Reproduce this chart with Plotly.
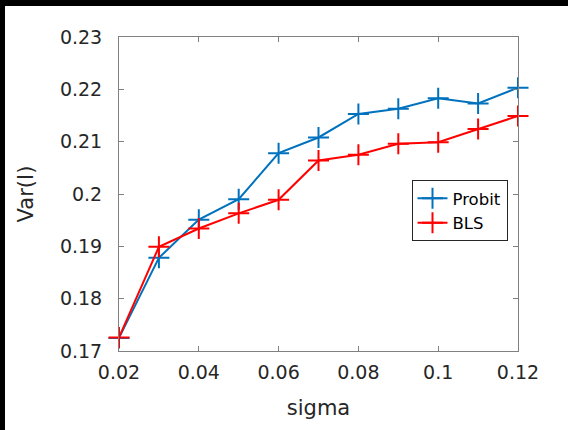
import plotly.graph_objects as go

sigma = [0.02, 0.03, 0.04, 0.05, 0.06, 0.07, 0.08, 0.09, 0.10, 0.11, 0.12]
probit = [0.1725, 0.1878, 0.1951, 0.1990, 0.2078, 0.2108, 0.2153, 0.2163, 0.2183, 0.2173, 0.2203]
bls = [0.1726, 0.1899, 0.1934, 0.1963, 0.1989, 0.2064, 0.2075, 0.2096, 0.2099, 0.2124, 0.2149]

W, H = 568, 430
L, R, T, B = 119, 50, 37, 79
pw, ph = W - L - R, H - T - B

fig = go.Figure()
fig.add_trace(go.Scatter(x=sigma, y=probit, name="Probit", mode="lines+markers", cliponaxis=False,
                         line=dict(color="#0072BD", width=2),
                         marker=dict(symbol="cross-thin", size=15, line=dict(color="#0072BD", width=2))))
fig.add_trace(go.Scatter(x=sigma, y=bls, name="BLS", mode="lines+markers", cliponaxis=False,
                         line=dict(color="#FF0000", width=2),
                         marker=dict(symbol="cross-thin", size=15, line=dict(color="#FF0000", width=2))))

axis_common = dict(showgrid=False, zeroline=False, showline=True, linecolor="#808080", linewidth=1,
                   mirror="ticks", ticks="inside", ticklen=5, tickcolor="#808080",
                   tickfont=dict(family="DejaVu Sans", size=19, color="#262626"))
fig.update_xaxes(range=[0.02, 0.12], tickvals=[0.02, 0.04, 0.06, 0.08, 0.10, 0.12],
                 ticklabelstandoff=4,
                 title=dict(text="sigma", font=dict(family="DejaVu Sans", size=21, color="#262626"), standoff=18),
                 **axis_common)
fig.update_yaxes(range=[0.17, 0.23], tickvals=[0.17, 0.18, 0.19, 0.20, 0.21, 0.22, 0.23],
                 ticklabelstandoff=12,
                 title=dict(text="Var(I)", font=dict(family="DejaVu Sans", size=21, color="#262626"), standoff=20),
                 **axis_common)

fig.update_layout(
    width=W, height=H, margin=dict(l=L, r=R, t=T, b=B, autoexpand=False),
    paper_bgcolor="white", plot_bgcolor="white", showlegend=True,
    legend=dict(x=(411.5 - L) / pw, y=(H - B - 180) / ph, xanchor="left", yanchor="top",
                bgcolor="white", bordercolor="#262626", borderwidth=1,
                font=dict(family="DejaVu Sans", size=16.5, color="black"),
                tracegroupgap=0, itemwidth=30),
    shapes=[
        dict(type="rect", xref="paper", yref="paper", x0=-L / pw, x1=(5 - L) / pw,
             y0=-B / ph, y1=1 + T / ph, fillcolor="black", line=dict(width=0), layer="above"),
        dict(type="rect", xref="paper", yref="paper", x0=-L / pw, x1=1 + R / pw,
             y0=1 + (T - 6) / ph, y1=1 + T / ph, fillcolor="black", line=dict(width=0), layer="above"),
    ],
)

fig.write_html("out.html", config={"displayModeBar": False},
               post_script="document.body.style.margin='0';document.body.style.overflow='hidden';")
